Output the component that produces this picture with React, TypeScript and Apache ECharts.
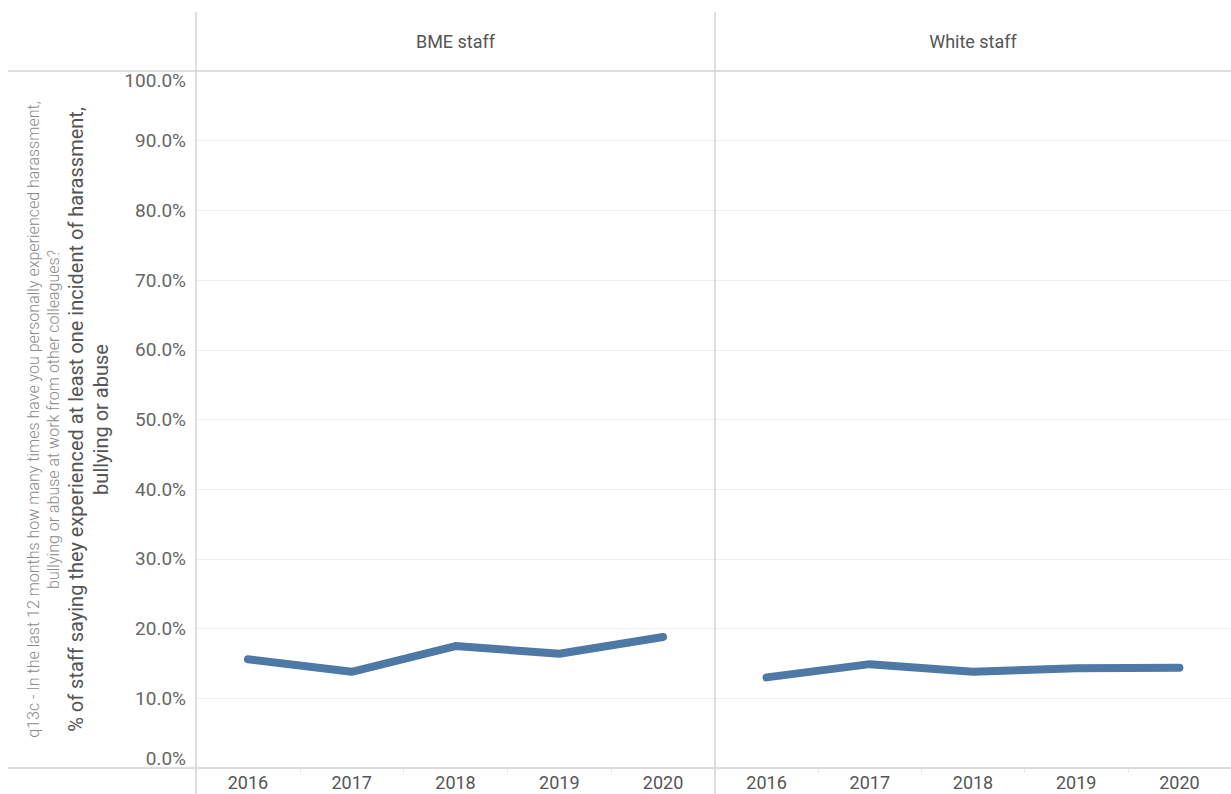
import React, { useEffect, useRef } from "react";
import * as echarts from "echarts";

const years = ["2016", "2017", "2018", "2019", "2020"];
const panels = ["BME staff", "White staff"];
const bmeValues = [15.6, 13.8, 17.5, 16.4, 18.8];
const whiteValues = [13.0, 14.9, 13.8, 14.3, 14.4];
const yTicks = { min: 0, max: 100, interval: 10 };
const smallTitle = [
  "q13c - In the last 12 months how many times have you personally experienced harassment,",
  "bullying or abuse at work from other colleagues?",
];
const bigTitle = [
  "% of staff saying they experienced at least one incident of harassment,",
  "bullying or abuse",
];

const FONT = "Roboto, 'Noto Sans', sans-serif";
const W = 1231;
const H = 794;
const TOP = 71;
const BOTTOM_Y = 768;
const SPLIT = 715;
const LEFT = 196;
const LINE_COLOR = "#4e79a7";
const BORDER = "#d4d4d4";

export default function App() {
  const ref = useRef<HTMLDivElement>(null);
  useEffect(() => {
    if (!ref.current) return;
    const chart = echarts.init(ref.current, undefined, { renderer: "svg" });
    const seriesData = [bmeValues, whiteValues];
    const grids = [
      { left: LEFT, right: W - SPLIT, top: TOP, bottom: H - BOTTOM_Y },
      { left: SPLIT, right: 0, top: TOP, bottom: H - BOTTOM_Y },
    ];
    const xAxes = grids.map((_, i) => ({
      type: "category",
      gridIndex: i,
      data: years,
      boundaryGap: true,
      axisLine: { show: false },
      axisTick: { show: true, length: 5, lineStyle: { color: "#e6e6e6" } },
      axisLabel: { color: "#555", fontSize: 18, fontFamily: FONT, margin: 5 },
      splitLine: { show: false },
    }));
    const yAxes = grids.map((_, i) => ({
      type: "value",
      gridIndex: i,
      min: yTicks.min,
      max: yTicks.max,
      interval: yTicks.interval,
      axisLine: { show: false },
      axisTick: { show: false },
      axisLabel: {
        show: i === 0,
        color: "#666",
        fontSize: 19,
        fontFamily: FONT,
        margin: 10,
        formatter: (v: number) => v.toFixed(1) + "%",
        verticalAlignMinLabel: "bottom",
        verticalAlignMaxLabel: "top",
      },
      splitLine: { show: true, lineStyle: { color: "#efefef", width: 1 } },
    }));
    const series = seriesData.map((d, i) => ({
      type: "line",
      xAxisIndex: i,
      yAxisIndex: i,
      data: d,
      showSymbol: false,
      symbol: "none",
      lineStyle: { color: LINE_COLOR, width: 8, cap: "round", join: "round" },
      itemStyle: { color: LINE_COLOR },
      z: 5,
    }));
    const lineEl = (x1: number, y1: number, x2: number, y2: number) => ({
      type: "line",
      shape: { x1, y1, x2, y2 },
      style: { stroke: BORDER, lineWidth: 1.5 },
      z: 10,
    });
    const graphic: any[] = [
      lineEl(8, TOP, W, TOP),
      lineEl(8, BOTTOM_Y, W, BOTTOM_Y),
      lineEl(LEFT, 12, LEFT, H),
      lineEl(SPLIT, 12, SPLIT, H),
      {
        type: "text",
        x: (LEFT + SPLIT) / 2,
        y: 41,
        style: { text: panels[0], fill: "#555", fontSize: 18, fontFamily: FONT, align: "center", verticalAlign: "middle" },
      },
      {
        type: "text",
        x: (SPLIT + W) / 2,
        y: 41,
        style: { text: panels[1], fill: "#555", fontSize: 18, fontFamily: FONT, align: "center", verticalAlign: "middle" },
      },
      {
        type: "text",
        x: 43,
        y: (TOP + BOTTOM_Y) / 2,
        rotation: Math.PI / 2,
        style: {
          text: smallTitle.join("\n"),
          fill: "#8a8a8a",
          fontSize: 16,
          fontWeight: 300,
          lineHeight: 20,
          fontFamily: FONT,
          align: "center",
          verticalAlign: "middle",
        },
      },
      {
        type: "text",
        x: 88,
        y: (TOP + BOTTOM_Y) / 2,
        rotation: Math.PI / 2,
        style: {
          text: bigTitle.join("\n"),
          fill: "#555",
          fontSize: 20,
          lineHeight: 25,
          fontFamily: FONT,
          align: "center",
          verticalAlign: "middle",
        },
      },
    ];
    chart.setOption({
      animation: false,
      backgroundColor: "#ffffff",
      grid: grids,
      xAxis: xAxes,
      yAxis: yAxes,
      series,
      graphic,
    } as any);
    return () => chart.dispose();
  }, []);
  return (
    <div
      ref={ref}
      style={{ position: "fixed", left: 0, top: 0, width: W, height: H }}
    />
  );
}
